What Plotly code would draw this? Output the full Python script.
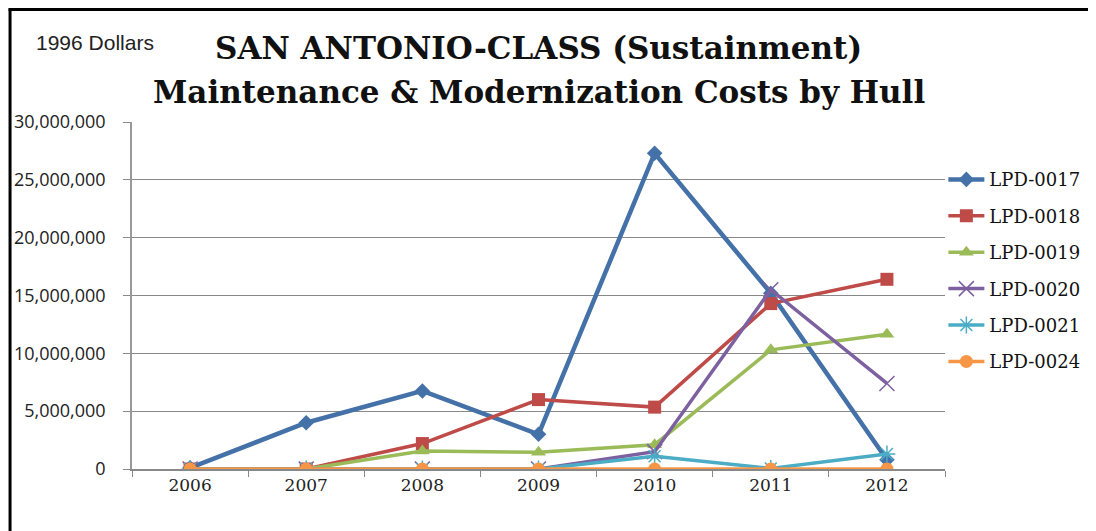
import plotly.graph_objects as go

# 数据（1996 美元）
years = ['2006', '2007', '2008', '2009', '2010', '2011', '2012']
lpd_0017 = [100000, 4000000, 6750000, 3000000, 27300000, 15200000, 800000]
lpd_0018 = [0, 0, 2200000, 6000000, 5350000, 14300000, 16400000]
lpd_0019 = [0, 0, 1550000, 1450000, 2100000, 10300000, 11650000]
lpd_0020 = [0, 0, 0, 0, 1500000, 15500000, 7400000]
lpd_0021 = [0, 0, 0, 0, 1100000, 50000, 1300000]
lpd_0024 = [0, 0, 0, 0, 0, 0, 0]

series = [
    ('LPD-0017', lpd_0017, '#4472A8', 'diamond', 12, 4.5),
    ('LPD-0018', lpd_0018, '#BE4B48', 'square', 13, 3.5),
    ('LPD-0019', lpd_0019, '#9BBB59', 'triangle-up', 13, 3.5),
    ('LPD-0020', lpd_0020, '#7D60A0', 'x-thin-open', 15, 3.5),
    ('LPD-0021', lpd_0021, '#4BACC6', 'asterisk-open', 14, 3.5),
    ('LPD-0024', lpd_0024, '#F79646', 'circle', 13, 3.5),
]

fig = go.Figure()

for name, vals, color, symbol, size, width in series:
    marker = dict(symbol=symbol, size=size, color=color)
    if symbol.endswith('open'):
        marker['line'] = dict(color=color, width=1.5)
    fig.add_trace(go.Scatter(
        x=years, y=vals, mode='lines+markers', name=name, legendgroup=name,
        line=dict(color=color, width=width), marker=marker,
        hovertemplate='%{x}: %{y:,.0f}<extra>' + name + '</extra>'
    ))

# 标题两行
fig.add_annotation(text='<b>SAN ANTONIO-CLASS (Sustainment)</b>', xref='paper', yref='paper',
                   x=0.5, y=1.213, xanchor='center', yanchor='middle', showarrow=False,
                   font=dict(family='DejaVu Serif', size=31, color='#111111'))
fig.add_annotation(text='<b>Maintenance &amp; Modernization Costs by Hull</b>', xref='paper', yref='paper',
                   x=0.5, y=1.087, xanchor='center', yanchor='middle', showarrow=False,
                   font=dict(family='DejaVu Serif', size=31, color='#111111'))
fig.add_annotation(text='1996 Dollars', xref='paper', yref='paper',
                   x=-0.1205, y=1.2305, xanchor='left', yanchor='middle', showarrow=False,
                   font=dict(family='Liberation Sans', size=21, color='#222222'))

# 外框（上、左）
fig.add_shape(type='line', xref='paper', yref='paper', x0=-0.152, x1=1.19, y0=1.324, y1=1.324,
              line=dict(color='black', width=3))
fig.add_shape(type='line', xref='paper', yref='paper', x0=-0.150, x1=-0.150, y0=-0.18, y1=1.324,
              line=dict(color='black', width=3))

# 页面 body 自带 8px 边距，整体尺寸相应缩小
fig.update_layout(
    width=1088, height=523,
    margin=dict(l=124, r=151, t=114, b=62, autoexpand=False),
    paper_bgcolor='white', plot_bgcolor='white',
    showlegend=True,
    legend=dict(x=0.998, y=0.887, xanchor='left', yanchor='top', tracegroupgap=10,
                font=dict(family='DejaVu Serif', size=18, color='#111111'),
                itemwidth=36, bgcolor='rgba(0,0,0,0)'),
)
fig.update_xaxes(type='category', range=[-0.5, 6.5], showline=True, linecolor='#888888', linewidth=1.5,
                 ticks='outside', tickson='boundaries', ticklen=6, tickcolor='#888888',
                 showgrid=False, tickfont=dict(family='DejaVu Serif', size=17, color='#222222'))
fig.update_yaxes(range=[0, 30000000], dtick=5000000, tickformat=',d', showline=True, linecolor='#999999',
                 linewidth=1.5, ticks='outside', ticklen=7, tickcolor='#888888', ticklabelstandoff=14,
                 showgrid=True, gridcolor='#888888', gridwidth=1, zeroline=False,
                 tickfont=dict(family='Open Sans', size=18, color='#222222'))

fig.write_html('out.html')
